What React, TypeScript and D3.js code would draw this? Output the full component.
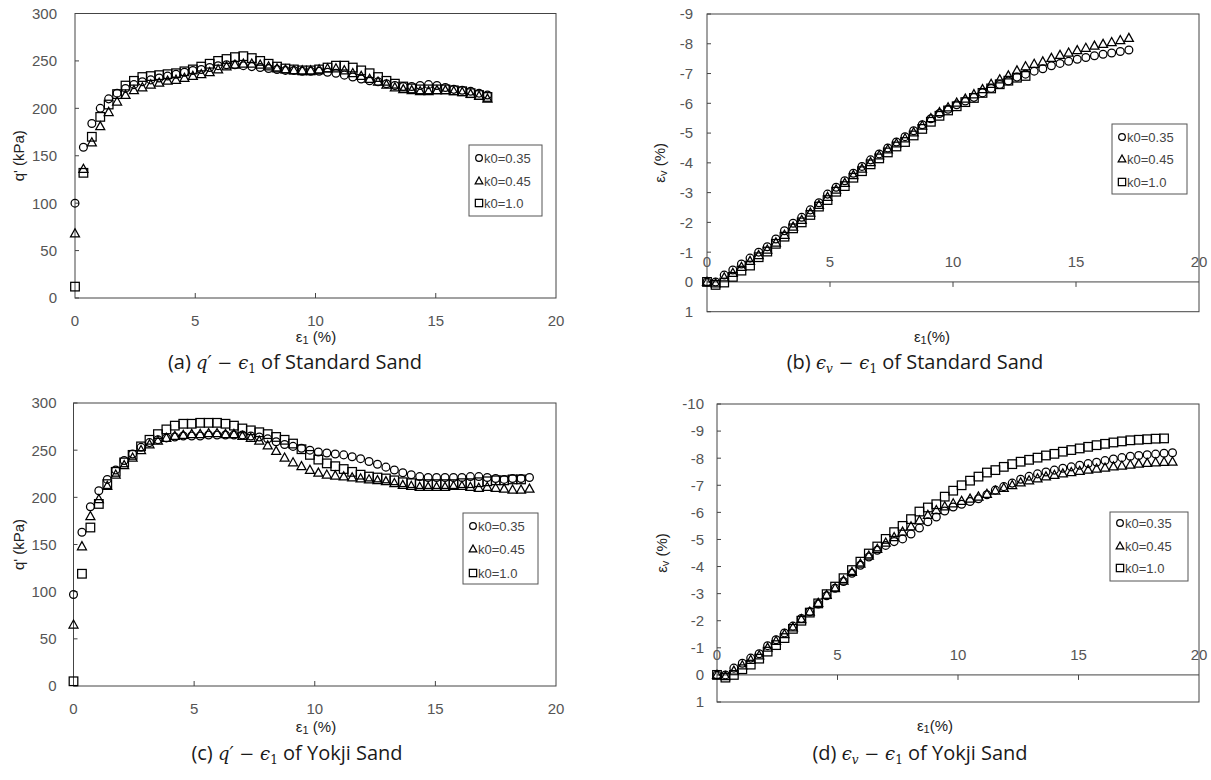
import React from "react";
import * as d3 from "d3";

// ---------- DATA ----------
const strainAB = [0, 0.35, 0.7, 1.05, 1.4, 1.75, 2.1, 2.45, 2.8, 3.15, 3.5, 3.85, 4.2, 4.55, 4.9, 5.25, 5.6, 5.95, 6.3, 6.65, 7, 7.35, 7.7, 8.05, 8.4, 8.75, 9.1, 9.45, 9.8, 10.15, 10.5, 10.85, 11.2, 11.55, 11.9, 12.25, 12.6, 12.95, 13.3, 13.65, 14, 14.35, 14.7, 15.05, 15.4, 15.75, 16.1, 16.45, 16.8, 17.15];
const strainCD = [0, 0.35, 0.7, 1.05, 1.4, 1.75, 2.1, 2.45, 2.8, 3.15, 3.5, 3.85, 4.2, 4.55, 4.9, 5.25, 5.6, 5.95, 6.3, 6.65, 7, 7.35, 7.7, 8.05, 8.4, 8.75, 9.1, 9.45, 9.8, 10.15, 10.5, 10.85, 11.2, 11.55, 11.9, 12.25, 12.6, 12.95, 13.3, 13.65, 14, 14.35, 14.7, 15.05, 15.4, 15.75, 16.1, 16.45, 16.8, 17.15, 17.5, 17.85, 18.2, 18.55, 18.9];

// (a) q' of Standard Sand
const qA035 = [100, 159, 184, 200, 210, 216, 221, 225, 228, 230, 232, 234, 236, 238, 240, 241, 243, 245, 246, 246, 245, 244, 243, 242, 241, 240, 240, 239, 239, 239, 238, 237, 235, 233, 231, 229, 228, 226, 224, 223, 223, 224, 225, 224, 222, 220, 219, 218, 216, 214];
const qA045 = [68, 136, 164, 181, 196, 207, 214, 219, 222, 225, 227, 229, 230, 232, 234, 236, 238, 241, 244, 246, 247, 247, 246, 244, 242, 241, 240, 240, 240, 241, 242, 242, 240, 237, 234, 231, 228, 225, 222, 220, 219, 218, 218, 219, 219, 218, 217, 215, 213, 210];
const qA10 = [12, 132, 170, 191, 204, 215, 224, 229, 233, 234, 235, 236, 237, 239, 241, 244, 247, 250, 252, 254, 255, 253, 250, 247, 244, 242, 241, 240, 240, 241, 243, 245, 245, 243, 240, 237, 233, 229, 226, 223, 221, 220, 220, 220, 220, 219, 218, 216, 214, 212];

// (b) volumetric strain of Standard Sand
const evB035 = [0, 0, -0.23, -0.4, -0.6, -0.8, -1.0, -1.18, -1.44, -1.72, -1.97, -2.17, -2.42, -2.66, -2.95, -3.18, -3.4, -3.65, -3.88, -4.1, -4.3, -4.5, -4.7, -4.88, -5.08, -5.28, -5.48, -5.66, -5.8, -5.95, -6.08, -6.2, -6.35, -6.5, -6.63, -6.75, -6.88, -6.98, -7.08, -7.16, -7.26, -7.34, -7.41, -7.48, -7.54, -7.6, -7.65, -7.69, -7.74, -7.79];
const evB045 = [0, 0.05, -0.15, -0.3, -0.5, -0.7, -0.9, -1.08, -1.32, -1.58, -1.85, -2.08, -2.32, -2.58, -2.85, -3.1, -3.32, -3.58, -3.8, -4.02, -4.25, -4.45, -4.65, -4.82, -5.02, -5.25, -5.5, -5.7, -5.86, -6.02, -6.15, -6.3, -6.47, -6.65, -6.8, -6.93, -7.1, -7.24, -7.32, -7.4, -7.52, -7.62, -7.7, -7.78, -7.86, -7.93, -7.99, -8.05, -8.12, -8.19];
const evB10 = [0, 0.1, 0.02, -0.17, -0.38, -0.55, -0.83, -1.02, -1.28, -1.52, -1.8, -2.0, -2.25, -2.53, -2.75, -3.03, -3.22, -3.5, -3.72, -3.95, -4.15, -4.35, -4.55, -4.7, -4.92, -5.14, -5.38, -5.58, -5.76, -5.9, -6.04, -6.18, -6.35, -6.5, -6.64, -6.76, -6.86, -6.92];

// (c) q' of Yokji Sand
const qC035 = [97, 163, 190, 207, 219, 229, 239, 246, 253, 258, 261, 263, 264, 265, 265, 265, 266, 266, 266, 266, 266, 265, 264, 262, 259, 256, 254, 252, 250, 248, 247, 246, 245, 243, 241, 238, 235, 232, 229, 226, 224, 222, 221, 221, 221, 221, 221, 222, 222, 221, 220, 219, 220, 220, 221];
const qC045 = [65, 148, 180, 198, 212, 224, 234, 242, 250, 256, 260, 263, 265, 266, 267, 267, 268, 268, 267, 267, 265, 263, 260, 255, 249, 242, 237, 233, 229, 226, 224, 223, 222, 221, 220, 219, 218, 217, 215, 213, 212, 211, 211, 211, 211, 212, 212, 211, 210, 211, 210, 209, 208, 208, 209];
const qC10 = [5, 119, 168, 193, 214, 227, 237, 245, 254, 261, 267, 272, 276, 278, 278, 279, 279, 279, 278, 276, 273, 271, 269, 267, 264, 261, 257, 251, 245, 240, 236, 233, 230, 227, 224, 222, 221, 220, 218, 216, 215, 214, 214, 214, 214, 214, 215, 215, 216, 217, 218, 218, 219, 219];

// (d) volumetric strain of Yokji Sand
const evD035 = [0, 0, -0.25, -0.43, -0.62, -0.78, -1.08, -1.3, -1.55, -1.8, -2.08, -2.33, -2.62, -2.92, -3.2, -3.45, -3.75, -4.05, -4.35, -4.6, -4.78, -4.92, -5.02, -5.2, -5.42, -5.65, -5.83, -6.05, -6.2, -6.3, -6.4, -6.5, -6.65, -6.82, -6.95, -7.08, -7.22, -7.33, -7.42, -7.49, -7.56, -7.63, -7.68, -7.74, -7.8, -7.85, -7.91, -7.97, -8.02, -8.07, -8.1, -8.13, -8.15, -8.18, -8.2];
const evD045 = [0, 0.05, -0.15, -0.35, -0.55, -0.72, -1.0, -1.25, -1.5, -1.75, -2.05, -2.33, -2.65, -2.95, -3.2, -3.48, -3.8, -4.1, -4.4, -4.65, -4.88, -5.08, -5.28, -5.48, -5.7, -5.9, -6.08, -6.22, -6.33, -6.42, -6.5, -6.58, -6.68, -6.8, -6.9, -7.0, -7.1, -7.18, -7.25, -7.32, -7.38, -7.43, -7.48, -7.53, -7.57, -7.61, -7.65, -7.69, -7.72, -7.76, -7.79, -7.82, -7.84, -7.86, -7.87];
const evD10 = [0, 0.1, 0, -0.21, -0.38, -0.6, -0.86, -1.1, -1.36, -1.7, -2.0, -2.3, -2.64, -2.98, -3.26, -3.57, -3.87, -4.18, -4.48, -4.74, -5.02, -5.27, -5.5, -5.75, -6.03, -6.18, -6.3, -6.58, -6.8, -7.0, -7.17, -7.32, -7.47, -7.56, -7.68, -7.78, -7.87, -7.94, -8.02, -8.1, -8.16, -8.24, -8.3, -8.36, -8.42, -8.48, -8.53, -8.58, -8.62, -8.66, -8.68, -8.7, -8.72, -8.73];

const legendLabels = ["k0=0.35", "k0=0.45", "k0=1.0"];
const xTicksAll = [0, 5, 10, 15, 20];
const qTicks = [0, 50, 100, 150, 200, 250, 300];
const evTicksB = [-9, -8, -7, -6, -5, -4, -3, -2, -1, 0, 1];
const evTicksD = [-10, -9, -8, -7, -6, -5, -4, -3, -2, -1, 0, 1];

type Shape = "circle" | "triangle" | "square";
const shapes: Shape[] = ["circle", "triangle", "square"];

const TICK_FONT = "Liberation Sans, Arial, sans-serif";
const AXIS = "#444";

function Marker({ shape, cx, cy, s = 1 }: { shape: Shape; cx: number; cy: number; s?: number }) {
  const common = { fill: "none", stroke: "#000", strokeWidth: 1.25 };
  if (shape === "circle") return <circle cx={cx} cy={cy} r={3.9 * s} {...common} />;
  if (shape === "square") {
    const h = 4.3 * s;
    return <rect x={cx - h} y={cy - h} width={2 * h} height={2 * h} {...common} />;
  }
  const a = 4.5 * s;
  const d = `M${cx},${cy - a * 1.05}L${cx - a},${cy + a * 0.75}L${cx + a},${cy + a * 0.75}Z`;
  return <path d={d} {...common} />;
}

type PanelProps = {
  left: number; right: number; top: number; bottom: number;
  yDomain: [number, number];
  yTicks: number[];
  series: { x: number[]; y: number[] }[];
  zeroAxis: boolean;
  yTickGap: number;
  yLabel: React.ReactNode;
  yLabelX: number;
  xLabel: React.ReactNode;
  xLabelPos: [number, number];
  legend: { x: number; y: number; w: number; h: number; rows: number[] };
};

function Panel(p: PanelProps) {
  const x = d3.scaleLinear().domain([0, 20]).range([p.left, p.right]);
  const y = d3.scaleLinear().domain(p.yDomain).range([p.top, p.bottom]);
  const axisY = p.zeroAxis ? y(0) : p.bottom;
  return (
    <g>
      <rect x={p.left} y={p.top} width={p.right - p.left} height={p.bottom - p.top} fill="none" stroke={AXIS} strokeWidth={1} />
      {p.zeroAxis && <line x1={p.left} x2={p.right} y1={axisY} y2={axisY} stroke={AXIS} strokeWidth={1} />}
      {p.yTicks.map((t) => (
        <g key={"y" + t}>
          <line x1={p.left} x2={p.left + 4} y1={y(t)} y2={y(t)} stroke={AXIS} />
          <text x={p.left - p.yTickGap} y={y(t)} dy="0.36em" textAnchor="end" fontFamily={TICK_FONT} fontSize={15} fill="#555">
            {t < 0 ? "-" + Math.abs(t) : String(t)}
          </text>
        </g>
      ))}
      {xTicksAll.map((t) => (
        <g key={"x" + t}>
          {t > 0 && t < 20 && (
            p.zeroAxis
              ? <line x1={x(t)} x2={x(t)} y1={axisY} y2={axisY + 5} stroke={AXIS} />
              : <line x1={x(t)} x2={x(t)} y1={axisY} y2={axisY - 5} stroke={AXIS} />
          )}
          <text x={x(t)} y={p.zeroAxis ? axisY - 20 : axisY + 23} dy="0.36em" textAnchor="middle" fontFamily={TICK_FONT} fontSize={15} fill="#555">
            {t}
          </text>
        </g>
      ))}
      {p.series.map((s, si) => (
        <g key={"s" + si}>
          {s.y.map((v, i) => (
            <Marker key={i} shape={shapes[si]} cx={x(s.x[i])} cy={y(v)} />
          ))}
        </g>
      ))}
      <g>
        <rect x={p.legend.x} y={p.legend.y} width={p.legend.w} height={p.legend.h} fill="#fff" stroke="#555" strokeWidth={1} />
        {legendLabels.map((l, i) => (
          <g key={l}>
            <Marker shape={shapes[i]} cx={p.legend.x + 10} cy={p.legend.rows[i]} s={0.85} />
            <text x={p.legend.x + 15} y={p.legend.rows[i]} dy="0.36em" fontFamily={TICK_FONT} fontSize={13} fill="#444">{l}</text>
          </g>
        ))}
      </g>
      <text transform={`translate(${p.yLabelX},${(p.top + p.bottom) / 2}) rotate(-90)`} textAnchor="middle" dy="0.36em" fontFamily={TICK_FONT} fontSize={15} fill="#222">
        {p.yLabel}
      </text>
      <text x={p.xLabelPos[0]} y={p.xLabelPos[1]} textAnchor="middle" dy="0.36em" fontFamily={TICK_FONT} fontSize={15} fill="#222">
        {p.xLabel}
      </text>
    </g>
  );
}

const SERIF = "DejaVu Serif, serif";

function Caption({ x, y, tag, ev, name }: { x: number; y: number; tag: string; ev: boolean; name: string }) {
  return (
    <text x={x} y={y} textAnchor="middle" fontFamily="Open Sans, sans-serif" fontSize={20} fill="#1a1a1a">
      <tspan>{`(${tag}) `}</tspan>
      {ev ? (
        <>
          <tspan fontFamily={SERIF} fontStyle="italic" fontSize={18}>ϵ</tspan>
          <tspan fontFamily={SERIF} fontStyle="italic" fontSize={12} dy={4}>v</tspan>
          <tspan fontFamily={SERIF} fontSize={18} dy={-4}> − </tspan>
        </>
      ) : (
        <>
          <tspan fontFamily={SERIF} fontStyle="italic" fontSize={18}>q′</tspan>
          <tspan fontFamily={SERIF} fontSize={18}> − </tspan>
        </>
      )}
      <tspan fontFamily={SERIF} fontStyle="italic" fontSize={18}>ϵ</tspan>
      <tspan fontFamily={SERIF} fontSize={12} dy={4}>1</tspan>
      <tspan dy={-4}>{` of ${name}`}</tspan>
    </text>
  );
}

const eps1 = (gap: string) => (
  <>
    <tspan>ε</tspan>
    <tspan fontSize={11} dy={2}>1</tspan>
    <tspan dy={-2}>{gap}(%)</tspan>
  </>
);
const epsV = (
  <>
    <tspan>ε</tspan>
    <tspan fontSize={11} dy={2}>v</tspan>
    <tspan dy={-2}> (%)</tspan>
  </>
);

export default function App() {
  return (
    <svg width={1211} height={780} style={{ position: "absolute", left: 0, top: 0, background: "#fff" }}>
      <Panel
        left={75} right={556} top={13.5} bottom={298}
        yDomain={[300, 0]} yTicks={qTicks} zeroAxis={false} yTickGap={18}
        series={[{ x: strainAB, y: qA035 }, { x: strainAB, y: qA045 }, { x: strainAB, y: qA10 }]}
        yLabel="q' (kPa)" yLabelX={19}
        xLabel={eps1(" ")} xLabelPos={[316, 337]}
        legend={{ x: 469, y: 145, w: 73, h: 71, rows: [158, 181, 203] }}
      />
      <Panel
        left={707} right={1199} top={14} bottom={311.7}
        yDomain={[-9, 1]} yTicks={evTicksB} zeroAxis={true} yTickGap={14}
        series={[{ x: strainAB, y: evB035 }, { x: strainAB, y: evB045 }, { x: strainAB, y: evB10 }]}
        yLabel={epsV} yLabelX={660}
        xLabel={eps1("")} xLabelPos={[932, 337]}
        legend={{ x: 1112, y: 124, w: 75, h: 70, rows: [137, 159, 182] }}
      />
      <Panel
        left={73.5} right={556} top={403} bottom={686}
        yDomain={[300, 0]} yTicks={qTicks} zeroAxis={false} yTickGap={17}
        series={[{ x: strainCD, y: qC035 }, { x: strainCD, y: qC045 }, { x: strainCD, y: qC10 }]}
        yLabel="q' (kPa)" yLabelX={19}
        xLabel={eps1(" ")} xLabelPos={[316, 727]}
        legend={{ x: 463, y: 513, w: 75, h: 71, rows: [526, 549, 573] }}
      />
      <Panel
        left={717} right={1199} top={404} bottom={702}
        yDomain={[-10, 1]} yTicks={evTicksD} zeroAxis={true} yTickGap={13}
        series={[{ x: strainCD, y: evD035 }, { x: strainCD, y: evD045 }, { x: strainCD, y: evD10 }]}
        yLabel={epsV} yLabelX={662}
        xLabel={eps1("")} xLabelPos={[935, 726]}
        legend={{ x: 1110, y: 512, w: 78, h: 69, rows: [523, 546, 568] }}
      />
      <Caption x={295} y={369} tag="a" ev={false} name="Standard Sand" />
      <Caption x={915} y={369} tag="b" ev={true} name="Standard Sand" />
      <Caption x={297} y={760} tag="c" ev={false} name="Yokji Sand" />
      <Caption x={920} y={760} tag="d" ev={true} name="Yokji Sand" />
    </svg>
  );
}
